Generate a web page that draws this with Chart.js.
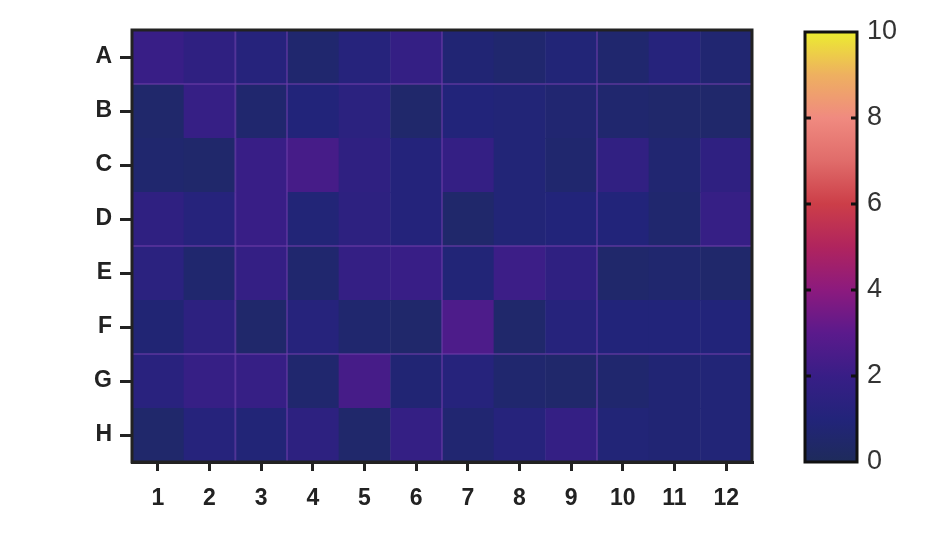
<!DOCTYPE html>
<html><head><meta charset="utf-8">
<script src="https://cdn.jsdelivr.net/npm/chart.js@4"></script>
<style>
body{margin:0;background:#fff;width:950px;height:536px;position:relative;overflow:hidden}
#c1{position:absolute;left:0;top:0}
#c2{position:absolute;left:760px;top:0}
</style></head><body>
<canvas id="c1" width="780" height="536"></canvas>
<canvas id="c2" width="190" height="536"></canvas>
<script>
const rowLabels=['A','B','C','D','E','F','G','H'];
const colLabels=['1','2','3','4','5','6','7','8','9','10','11','12'];
const rowA=[2.0,1.6,1.2,0.6,1.2,1.8,0.8,0.6,0.9,0.6,1.2,0.7];
const rowB=[0.5,1.9,0.6,1.0,1.4,0.5,1.0,0.9,0.7,0.6,0.5,0.5];
const rowC=[0.6,0.5,2.0,2.4,1.6,1.1,1.8,0.9,0.6,1.7,0.7,1.6];
const rowD=[1.6,1.2,2.0,0.9,1.5,1.1,0.5,0.9,1.0,1.0,0.6,1.9];
const rowE=[1.4,0.6,1.8,0.6,1.8,2.0,0.9,2.1,1.6,0.5,0.6,0.5];
const rowF=[0.8,1.5,0.5,1.2,0.6,0.5,2.6,0.5,1.2,1.0,1.0,1.0];
const rowG=[1.3,1.9,1.9,0.6,2.4,0.8,1.2,0.6,0.5,0.6,0.8,0.9];
const rowH=[0.5,1.2,0.9,1.5,0.5,1.8,0.7,1.2,1.8,0.9,0.8,0.9];
const rows=[rowA,rowB,rowC,rowD,rowE,rowF,rowG,rowH];
const colorTicks=[0,2,4,6,8,10];
const stops=[[30,43,91],[34,36,122],[56,30,134],[91,26,140],[140,26,126],[176,36,94],[204,62,72],[224,108,106],[240,138,128],[238,176,96],[236,236,48]];
function cmap(v){v=Math.max(0,Math.min(10,v));const i=Math.min(9,Math.floor(v)),t=v-i,a=stops[i],b=stops[i+1];
 return 'rgb('+a.map((x,k)=>Math.round(x+(b[k]-x)*t)).join(',')+')';}
const cells=[];rows.forEach((r,ri)=>r.forEach((v,ci)=>cells.push({x:ci+1,y:ri+1,v})));
const font={family:'"Liberation Sans", Arial, sans-serif',size:23,weight:'bold'};
const heat={id:'heat',beforeDatasetsDraw(ch){const {ctx,scales:{x,y}}=ch;
 cells.forEach(c=>{const x0=x.getPixelForValue(c.x-0.5),x1=x.getPixelForValue(c.x+0.5),y0=y.getPixelForValue(c.y-0.5),y1=y.getPixelForValue(c.y+0.5);
 ctx.fillStyle=cmap(c.v);ctx.fillRect(Math.min(x0,x1),Math.min(y0,y1),Math.abs(x1-x0)+0.5,Math.abs(y1-y0)+0.5);});
 ctx.strokeStyle='rgba(110,60,170,0.55)';ctx.lineWidth=2;
 [1.5,4.5,6.5].forEach(v=>{const p=y.getPixelForValue(v);ctx.beginPath();ctx.moveTo(ch.chartArea.left,p);ctx.lineTo(ch.chartArea.right,p);ctx.stroke();});
 [2.5,3.5,6.5,9.5].forEach(v=>{const p=x.getPixelForValue(v);ctx.beginPath();ctx.moveTo(p,ch.chartArea.top);ctx.lineTo(p,ch.chartArea.bottom);ctx.stroke();});
 const a=ch.chartArea;ctx.strokeStyle='#222';ctx.lineWidth=3;ctx.strokeRect(a.left,a.top,a.right-a.left,a.bottom-a.top);}};
new Chart(document.getElementById('c1'),{type:'scatter',data:{datasets:[{data:cells.map(c=>({x:c.x,y:c.y})),pointRadius:0}]},
 options:{responsive:false,animation:false,layout:{padding:{left:0,top:30,right:28,bottom:0}},plugins:{legend:{display:false},tooltip:{enabled:false}},
 scales:{x:{type:'linear',min:0.5,max:12.5,afterBuildTicks:a=>{a.ticks=colLabels.map((l,i)=>({value:i+1}));},afterFit:s=>{s.height=74;},
   ticks:{callback:(v)=>colLabels[v-1],color:'#222',font,padding:14},grid:{drawOnChartArea:false,color:'#222',lineWidth:3,tickLength:9},border:{color:'#222',width:3}},
  y:{type:'linear',min:0.5,max:8.5,reverse:true,afterBuildTicks:a=>{a.ticks=rowLabels.map((l,i)=>({value:i+1}));},afterFit:s=>{s.width=132;},
   ticks:{callback:(v)=>rowLabels[v-1],color:'#222',font,padding:8},grid:{drawOnChartArea:false,color:'#222',lineWidth:3,tickLength:12},border:{color:'#222',width:3}}}},
 plugins:[heat]});
const bar={id:'bar',beforeDatasetsDraw(ch){const {ctx,chartArea:a}=ch;const g=ctx.createLinearGradient(0,a.bottom,0,a.top);
 stops.forEach((s,i)=>g.addColorStop(i/10,'rgb('+s.join(',')+')'));ctx.fillStyle=g;ctx.fillRect(a.left,a.top,a.right-a.left,a.bottom-a.top);
 ctx.strokeStyle='#111';ctx.lineWidth=3;ctx.strokeRect(a.left,a.top,a.right-a.left,a.bottom-a.top);
 const y=ch.scales.y;ctx.lineWidth=3;[2,4,6,8].forEach(v=>{const p=y.getPixelForValue(v);ctx.beginPath();ctx.moveTo(a.left,p);ctx.lineTo(a.left+6,p);ctx.moveTo(a.right-6,p);ctx.lineTo(a.right,p);ctx.stroke();});}};
new Chart(document.getElementById('c2'),{type:'scatter',data:{datasets:[{data:[]}]},
 options:{responsive:false,animation:false,layout:{padding:{left:45,top:32,bottom:74,right:0}},plugins:{legend:{display:false},tooltip:{enabled:false}},
 scales:{x:{display:false,min:0,max:1},y:{position:'right',min:0,max:10,afterBuildTicks:a=>{a.ticks=colorTicks.map(v=>({value:v}));},afterFit:s=>{s.width=93;},
  ticks:{color:'#333',font:{family:'"Liberation Sans", Arial, sans-serif',size:27},padding:10},grid:{display:false,drawTicks:false},border:{display:false}}}},
 plugins:[bar]});
</script></body></html>
